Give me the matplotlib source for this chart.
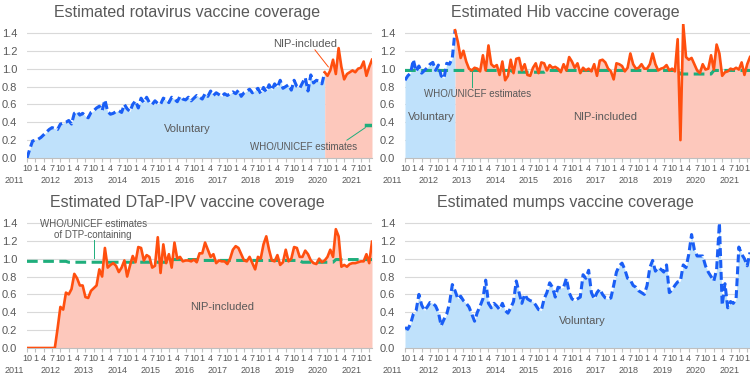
import numpy as np
import matplotlib.pyplot as plt

plt.rcParams['font.family'] = ['Liberation Sans', 'DejaVu Sans']

# monthly estimates, Oct 2011 .. Feb 2022
first_month = 10
n_months = 125

rota = [0.00, 0.10, 0.19,
        0.20, 0.21, 0.23, 0.26, 0.29, 0.32, 0.34, 0.33, 0.32, 0.38, 0.39, 0.40,
        0.42, 0.38, 0.50, 0.52, 0.48, 0.50, 0.47, 0.45, 0.51, 0.53, 0.56, 0.58,
        0.53, 0.65, 0.52, 0.49, 0.50, 0.52, 0.53, 0.51, 0.60, 0.55, 0.52, 0.60,
        0.64, 0.56, 0.67, 0.62, 0.68, 0.62, 0.60, 0.64, 0.61, 0.60, 0.67, 0.65,
        0.62, 0.68, 0.66, 0.63, 0.69, 0.66, 0.65, 0.68, 0.64, 0.67, 0.70, 0.68,
        0.66, 0.72, 0.69, 0.75, 0.70, 0.73, 0.71, 0.69, 0.72, 0.70, 0.72, 0.74,
        0.72, 0.76, 0.69, 0.73, 0.75, 0.77, 0.73, 0.76, 0.78, 0.72, 0.79, 0.74,
        0.82, 0.76, 0.83, 0.79, 0.87, 0.78, 0.80, 0.82, 0.76, 0.87, 0.80, 0.78,
        0.84, 0.90, 0.75, 0.93, 0.84, 0.87, 0.86, 0.83, 0.96, 0.92, 0.98, 1.10,
        0.94, 1.23, 1.02, 0.88, 0.94, 0.96, 0.98, 0.96, 1.00, 1.01, 1.08, 0.92,
        1.02, 1.10]

hib = [0.87, 0.92, 0.95,
       1.10, 0.97, 1.03, 0.95, 0.98, 1.01, 1.05, 1.07, 0.98, 1.04, 0.92, 0.89,
       1.06, 1.05, 1.12, 1.43, 1.30, 1.12, 1.20, 1.08, 1.00, 0.98, 1.01, 1.00,
       0.97, 1.15, 0.98, 1.26, 1.05, 1.02, 1.04, 0.93, 1.08, 0.87, 0.92, 1.10,
       0.95, 1.11, 1.12, 0.98, 1.05, 0.93, 0.92, 1.01, 1.06, 0.95, 1.07, 1.06,
       0.98, 1.04, 1.01, 1.02, 1.00, 0.96, 1.05, 0.98, 1.13, 1.08, 1.01, 1.06,
       0.95, 1.01, 0.98, 1.00, 0.97, 1.05, 0.92, 1.09, 1.10, 1.07, 1.00, 0.97,
       0.88, 1.06, 1.05, 1.03, 0.97, 1.01, 1.17, 1.05, 1.00, 1.01, 1.05, 1.00,
       1.00, 1.05, 1.17, 1.05, 0.98, 1.00, 1.01, 1.04, 0.98, 1.00, 0.97, 1.33,
       0.20, 1.50, 1.13, 1.10, 1.12, 1.05, 0.98, 0.95, 1.05, 0.99, 1.00, 1.15,
       0.99, 1.27, 1.17, 0.92, 0.96, 0.97, 1.00, 0.99, 1.01, 0.99, 1.07, 0.93,
       1.05, 1.13]

dtap = [0.00, 0.00, 0.00,
        0.00, 0.00, 0.00, 0.00, 0.00, 0.00, 0.00, 0.00, 0.22, 0.46, 0.43, 0.62,
        0.60, 0.66, 0.83, 0.78, 0.70, 0.70, 0.57, 0.56, 0.64, 0.67, 0.70, 0.88,
        0.80, 1.12, 0.90, 0.93, 0.95, 0.92, 0.85, 0.90, 0.98, 0.80, 0.92, 1.03,
        0.96, 1.13, 1.12, 0.98, 1.04, 1.02, 0.90, 0.92, 1.24, 0.84, 1.16, 0.95,
        1.05, 0.90, 1.18, 1.00, 1.02, 0.97, 0.98, 0.98, 0.97, 0.99, 0.96, 1.06,
        1.06, 1.18, 1.10, 1.02, 1.05, 0.95, 0.98, 0.97, 0.97, 0.94, 1.00, 1.10,
        1.14, 1.12, 1.05, 0.98, 0.97, 1.02, 0.95, 0.88, 1.02, 1.00, 1.16, 1.25,
        1.10, 0.98, 0.97, 1.04, 0.93, 0.96, 1.10, 0.97, 1.00, 1.13, 1.12, 1.02,
        1.02, 1.09, 1.05, 0.98, 0.95, 0.94, 1.00, 0.96, 0.98, 1.02, 1.10, 1.02,
        1.33, 1.25, 0.91, 0.93, 0.91, 0.94, 0.95, 0.95, 0.96, 0.97, 0.97, 1.05,
        0.95, 1.19]

mumps = [0.23, 0.21, 0.27,
         0.38, 0.42, 0.60, 0.48, 0.42, 0.46, 0.51, 0.50, 0.47, 0.40, 0.25, 0.32,
         0.38, 0.50, 0.71, 0.64, 0.55, 0.58, 0.53, 0.50, 0.46, 0.38, 0.30, 0.40,
         0.47, 0.55, 0.76, 0.50, 0.45, 0.50, 0.47, 0.43, 0.50, 0.42, 0.39, 0.45,
         0.52, 0.75, 0.62, 0.50, 0.60, 0.55, 0.53, 0.52, 0.48, 0.43, 0.42, 0.55,
         0.62, 0.73, 0.68, 0.57, 0.68, 0.67, 0.68, 0.78, 0.62, 0.55, 0.53, 0.55,
         0.57, 0.82, 0.78, 0.87, 0.62, 0.55, 0.62, 0.66, 0.60, 0.56, 0.55, 0.56,
         0.70, 0.85, 0.92, 0.95, 0.88, 0.78, 0.76, 0.70, 0.68, 0.64, 0.62, 0.60,
         0.70, 0.90, 0.98, 0.86, 0.90, 0.88, 0.85, 0.93, 0.62, 0.65, 0.70, 0.74,
         0.75, 0.93, 0.90, 1.05, 1.27, 1.10, 1.03, 1.03, 1.03, 0.92, 0.85, 0.80,
         0.75, 0.88, 1.40, 0.48, 0.72, 0.45, 0.52, 0.50, 0.55, 1.13, 1.05, 1.00,
         0.92, 1.07]

# WHO/UNICEF annual estimates, 2011 .. 2022
who_years = list(range(2011, 2023))
months_in_year = [3] + [12] * 10 + [2]
hib_who = [0.98, 0.98, 0.98, 0.98, 0.96, 0.98, 0.98, 0.98, 0.98, 0.94, 0.98, 0.98]
dtap_who = [0.97, 0.97, 0.96, 0.96, 0.96, 0.99, 0.98, 0.98, 0.98, 0.96, 0.99, 0.99]
rota_who = 0.37
rota_who_span = (122, 124)

# index where routine (NIP) programme starts
rota_nip = 107
hib_nip = 18

for s in (rota, hib, dtap, mumps):
    assert len(s) == n_months, len(s)

BLUE = '#1a5ef5'
BLUE_FILL = '#bfe1fb'
ORANGE = '#ff4f0f'
ORANGE_FILL = '#fdc8bc'
GREEN = '#1fae7c'
TXT = '#595959'

x = np.arange(n_months)
month_no = [(first_month - 1 + i) % 12 + 1 for i in range(n_months)]
tick_idx = [i for i in range(n_months) if month_no[i] in (1, 4, 7, 10)]
year_pos = [-4.7] + [3 + 12 * k + 5.5 for k in range(10)]
year_lab = [str(y) for y in range(2011, 2022)]

W, H = 750, 375
fig = plt.figure(figsize=(7.5, 3.75), dpi=100)


def make_ax(left, top, title):
    ax = fig.add_axes([left / W, 1 - (top + 134) / H, 345 / W, 134 / H])
    ax.set_title(title, fontsize=11.5, color=TXT, pad=5, x=0.465)
    ax.set_xlim(0, n_months - 1)
    ax.set_ylim(0, 1.5)
    ax.set_yticks(np.arange(0, 1.41, 0.2))
    ax.set_yticklabels(['%.1f' % v for v in np.arange(0, 1.41, 0.2)])
    ax.grid(axis='y', color='#d9d9d9', lw=0.8)
    ax.set_axisbelow(True)
    for s in ('top', 'right', 'left'):
        ax.spines[s].set_visible(False)
    ax.spines['bottom'].set_color('#bfbfbf')
    ax.tick_params(axis='y', length=0, labelsize=8, labelcolor=TXT, pad=7)
    ax.set_xticks(tick_idx)
    ax.set_xticklabels([str(month_no[i]) for i in tick_idx])
    ax.tick_params(axis='x', length=3, color='#bfbfbf', labelsize=6.5,
                   labelcolor=TXT, pad=1.5)
    tr = ax.get_xaxis_transform()
    for p, lab in zip(year_pos, year_lab):
        ax.text(p, -0.135, lab, transform=tr, ha='center', va='top',
                fontsize=6.5, color=TXT, clip_on=False)
    return ax


def voluntary(ax, lo, hi, vals):
    xs = x[lo:hi + 1]
    ys = vals[lo:hi + 1]
    ax.fill_between(xs, 0, ys, color=BLUE_FILL, lw=0)
    ax.plot(xs, ys, color=BLUE, lw=2.2, ls=(0, (2.6, 1.3)), zorder=4)


def nip(ax, lo, hi, vals):
    xs = x[lo:hi + 1]
    ys = vals[lo:hi + 1]
    ax.fill_between(xs, 0, ys, color=ORANGE_FILL, lw=0)
    ax.plot(xs, ys, color=ORANGE, lw=1.9, zorder=4)


def who_line(ax, annual):
    ax.plot(x, np.repeat(annual, months_in_year), color=GREEN, lw=2.2,
            ls=(0, (3.5, 1.8)), zorder=3)


# rotavirus
ax = make_ax(27, 24, 'Estimated rotavirus vaccine coverage')
voluntary(ax, 0, rota_nip, rota)
nip(ax, rota_nip, n_months - 1, rota)
ax.plot(rota_who_span, [rota_who, rota_who], color=GREEN, lw=2.5, zorder=3)
ax.text(57.5, 0.32, 'Voluntary', ha='center', va='center', fontsize=8, color=TXT)
ax.text(100, 1.28, 'NIP-included', ha='center', va='center', fontsize=8, color=TXT)
ax.plot([103.5, 108.3], [1.21, 1.02], color=ORANGE, lw=0.7)
ax.text(99.5, 0.12, 'WHO/UNICEF estimates', ha='center', va='center', fontsize=7, color=TXT)
ax.plot([115, 121.6], [0.20, 0.34], color=GREEN, lw=0.7)

# Hib
ax = make_ax(405, 24, 'Estimated Hib vaccine coverage')
voluntary(ax, 0, hib_nip, hib)
nip(ax, hib_nip, n_months - 1, hib)
who_line(ax, hib_who)
ax.text(9.6, 0.46, 'Voluntary', ha='center', va='center', fontsize=8, color=TXT)
ax.text(72, 0.46, 'NIP-included', ha='center', va='center', fontsize=8, color=TXT)
ax.text(26, 0.72, 'WHO/UNICEF estimates', ha='center', va='center', fontsize=7, color=TXT)
ax.plot([24, 24], [0.80, 0.96], color=GREEN, lw=0.7)

# DTaP-IPV
ax = make_ax(27, 214, 'Estimated DTaP-IPV vaccine coverage')
nip(ax, 0, n_months - 1, dtap)
who_line(ax, dtap_who)
ax.text(23.8, 1.33, 'WHO/UNICEF estimates\nof DTP-containing', ha='center', va='center',
        fontsize=7, color=TXT, linespacing=1.1)
ax.plot([24, 24], [1.21, 1.01], color=GREEN, lw=0.7)
ax.text(70, 0.46, 'NIP-included', ha='center', va='center', fontsize=8, color=TXT)

# mumps
ax = make_ax(405, 214, 'Estimated mumps vaccine coverage')
voluntary(ax, 0, n_months - 1, mumps)
ax.text(63.7, 0.30, 'Voluntary', ha='center', va='center', fontsize=8, color=TXT)

fig.savefig('out.png', dpi=100)
